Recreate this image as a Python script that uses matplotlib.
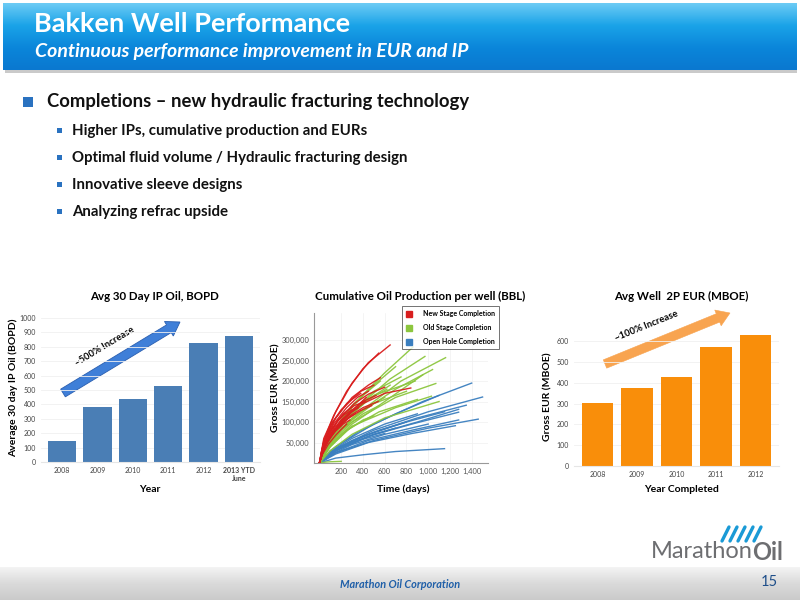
import matplotlib
matplotlib.use('Agg')
import numpy as np
import matplotlib.pyplot as plt
from matplotlib.patches import Rectangle, FancyArrow, Patch
from matplotlib.colors import LinearSegmentedColormap
from matplotlib.ticker import FuncFormatter

plt.rcParams['font.family'] = ['Lato', 'DejaVu Sans']

# ---- data ----
ip_years = ['2008', '2009', '2010', '2011', '2012', '2013 YTD\nJune']
ip_bopd = [146, 382, 437, 530, 828, 875]

eur_years = ['2008', '2009', '2010', '2011', '2012']
eur_mboe = [302, 378, 428, 572, 630]

# cumulative production per well: (days, thousand bbl)
new_stage = [
    [(0, 0), (40, 60), (150, 125), (300, 195), (450, 245), (650, 288)],
    [(0, 0), (40, 55), (130, 115), (250, 175), (400, 230), (545, 268)],
    [(0, 0), (40, 50), (150, 110), (300, 160), (450, 190), (560, 208)],
    [(0, 0), (40, 45), (130, 95), (250, 135), (350, 160), (450, 175)],
    [(0, 0), (50, 45), (170, 105), (320, 145), (450, 168), (600, 185)],
    [(0, 0), (60, 50), (200, 105), (400, 145), (600, 170), (840, 183)],
    [(0, 0), (30, 35), (120, 85), (220, 120), (320, 140), (420, 150)],
    [(0, 0), (40, 35), (120, 75), (220, 105), (300, 125), (360, 135)],
    [(0, 0), (30, 30), (100, 65), (180, 90), (260, 108), (330, 120)],
    [(0, 0), (40, 40), (150, 90), (280, 125), (400, 150), (520, 165)],
    [(0, 0), (25, 25), (80, 55), (150, 78), (220, 95), (280, 105)],
    [(0, 0), (50, 40), (160, 85), (280, 112), (380, 128), (480, 140)],
    [(0, 0), (30, 30), (110, 70), (220, 105), (330, 135), (430, 160)],
    [(0, 0), (25, 20), (80, 45), (150, 68), (200, 82), (250, 95)],
    [(0, 0), (30, 40), (100, 90), (200, 130), (300, 155), (380, 170)],
    [(0, 0), (35, 45), (120, 100), (250, 145), (380, 175), (500, 190)],
    [(0, 0), (20, 30), (80, 70), (160, 100), (230, 118), (300, 130)],
    [(0, 0), (40, 35), (140, 80), (280, 115), (400, 135), (540, 150)],
]
old_stage = [
    [(0, 0), (100, 60), (300, 140), (600, 220), (860, 283)],
    [(0, 0), (100, 55), (300, 125), (650, 205), (970, 260)],
    [(0, 0), (100, 50), (350, 120), (750, 200), (1160, 257)],
    [(0, 0), (100, 50), (300, 110), (700, 180), (1040, 228)],
    [(0, 0), (100, 45), (300, 100), (700, 160), (1070, 194)],
    [(0, 0), (100, 40), (300, 90), (700, 135), (1030, 163)],
    [(0, 0), (80, 55), (250, 125), (500, 190), (700, 235)],
    [(0, 0), (80, 50), (250, 115), (500, 175), (750, 210)],
    [(0, 0), (80, 45), (220, 100), (450, 155), (650, 190)],
    [(0, 0), (80, 40), (250, 95), (500, 145), (800, 175)],
    [(0, 0), (80, 40), (200, 85), (400, 130), (600, 160)],
    [(0, 0), (60, 35), (200, 80), (400, 120), (550, 140)],
    [(0, 0), (80, 35), (250, 80), (550, 125), (900, 155)],
    [(0, 0), (60, 30), (200, 70), (400, 105), (500, 115)],
    [(0, 0), (100, 40), (300, 95), (600, 150), (950, 215)],
    [(0, 0), (100, 30), (300, 70), (600, 110), (1100, 150)],
    [(0, 0), (50, 2), (100, 3), (200, 4)],
    [(0, 0), (80, 45), (250, 110), (500, 165), (880, 200)],
    [(0, 0), (80, 50), (200, 105), (400, 165), (560, 200)],
    [(0, 0), (60, 40), (180, 90), (350, 135), (480, 160)],
    [(0, 0), (70, 45), (220, 105), (420, 150), (620, 180)],
]
open_hole = [
    [(0, 0), (150, 40), (500, 95), (950, 150), (1400, 195)],
    [(0, 0), (150, 35), (500, 80), (1000, 125), (1500, 161)],
    [(0, 0), (150, 35), (500, 75), (900, 110), (1350, 141)],
    [(0, 0), (150, 30), (500, 70), (900, 100), (1280, 131)],
    [(0, 0), (150, 30), (450, 65), (850, 95), (1280, 124)],
    [(0, 0), (150, 25), (500, 55), (1000, 85), (1460, 107)],
    [(0, 0), (150, 25), (450, 55), (850, 80), (1280, 105)],
    [(0, 0), (150, 22), (450, 50), (850, 72), (1250, 91)],
    [(0, 0), (150, 12), (400, 20), (700, 28), (1150, 35)],
    [(0, 0), (100, 30), (350, 75), (700, 120), (1100, 165)],
    [(0, 0), (100, 28), (300, 60), (600, 95), (900, 120)],
    [(0, 0), (100, 25), (300, 55), (550, 80), (800, 100)],
    [(0, 0), (100, 22), (250, 45), (500, 70), (700, 85)],
    [(0, 0), (80, 20), (200, 38), (400, 58), (600, 72)],
    [(0, 0), (120, 28), (400, 65), (800, 100), (1150, 125)],
    [(0, 0), (100, 20), (300, 45), (600, 70), (1000, 95)],
]

bullets = ['Higher IPs, cumulative production and EURs',
           'Optimal fluid volume / Hydraulic fracturing design',
           'Innovative sleeve designs',
           'Analyzing refrac upside']

RED = '#d81e1e'
GREEN = '#8cc63e'
BLUE = '#3b7fbf'
BAR_BLUE = '#4a7eb5'
ORANGE = '#f98e0a'

fig = plt.figure(figsize=(8, 6), dpi=100)

# background axes in pixel units
bg = fig.add_axes([0, 0, 1, 1])
bg.set_xlim(0, 800)
bg.set_ylim(600, 0)
bg.axis('off')

# header band
hdr = LinearSegmentedColormap.from_list('hdr', ['#6ccbf5', '#1aa3e8', '#0b86da', '#0a78d0'])
grad = np.linspace(0, 1, 100).reshape(-1, 1)
bg.imshow(grad, cmap=hdr, extent=(3, 797, 70, 3), aspect='auto', zorder=1)
bg.add_patch(Rectangle((5, 70), 792, 3, color='#8a8a8a', alpha=0.45, lw=0, zorder=1))
bg.text(34, 24, 'Bakken Well Performance', color='white', fontsize=19.5,
        fontweight='bold', va='center', ha='left', zorder=3)
bg.text(35, 52, 'Continuous performance improvement in EUR and IP', color='white',
        fontsize=14, fontweight='bold', style='italic', va='center', ha='left', zorder=3)

# bullets
bg.add_patch(Rectangle((23, 97), 10, 10, color='#2a72c0', lw=0))
bg.text(47, 102, 'Completions \u2013 new hydraulic fracturing technology', fontsize=13.3,
        fontweight='bold', va='center', ha='left', color='#111111')
for i, b in enumerate(bullets):
    y = 131 + 27 * i
    bg.add_patch(Rectangle((57, y - 3), 5, 5, color='#2a72c0', lw=0))
    bg.text(72, y, b, fontsize=10.8, fontweight='bold', va='center', ha='left', color='#111111')

# footer band
ftr = LinearSegmentedColormap.from_list('ftr', ['#f4f4f4', '#dadada', '#cacaca'])
bg.imshow(grad, cmap=ftr, extent=(0, 800, 600, 567), aspect='auto', zorder=1)
bg.text(340, 585, 'Marathon Oil Corporation', fontsize=7.8, style='italic', fontweight='bold',
        color='#1f5fa8', va='center', ha='left', zorder=3)
bg.text(778, 582, '15', fontsize=10.5, color='#1f4f8a', va='center', ha='right', zorder=3)

# logo
bg.text(651, 552, 'Marathon', fontsize=17, color='#6d6e71', va='center', ha='left')
bg.text(752, 552, 'Oil', fontsize=17, color='#6d6e71', fontweight='bold', va='center', ha='left')
for k in range(5):
    xs = np.array([722, 729]) + 8 * k
    bg.plot(xs, [541, 527], color='#1a9ad6', lw=2.4, solid_capstyle='round')

# chart titles and labels
bg.text(155, 296, 'Avg 30 Day IP Oil, BOPD', fontsize=8.3, fontweight='bold', ha='center', va='center')
bg.text(420, 296, 'Cumulative Oil Production per well (BBL)', fontsize=8.3, fontweight='bold',
        ha='center', va='center')
bg.text(681, 296, 'Avg Well  2P EUR (MBOE)', fontsize=8.3, fontweight='bold', ha='center', va='center')
bg.text(150, 490, 'Year', fontsize=7.5, fontweight='bold', ha='center', va='center')
bg.text(403, 489, 'Time (days)', fontsize=7.5, fontweight='bold', ha='center', va='center')
bg.text(682, 489, 'Year Completed', fontsize=7.5, fontweight='bold', ha='center', va='center')
bg.text(13, 388, 'Average 30 day IP Oil (BOPD)', fontsize=7.5, fontweight='bold', rotation=90,
        ha='center', va='center')
bg.text(276, 388, 'Gross EUR (MBOE)', fontsize=7.5, fontweight='bold', rotation=90,
        ha='center', va='center')
bg.text(548, 397, 'Gross EUR (MBOE)', fontsize=7.5, fontweight='bold', rotation=90,
        ha='center', va='center')


def px_axes(left, right, top, bottom):
    return fig.add_axes([left / 800, (600 - bottom) / 600, (right - left) / 800, (bottom - top) / 600])


def bar_style(ax):
    for s in ax.spines.values():
        s.set_visible(False)
    ax.spines['bottom'].set_visible(True)
    ax.spines['bottom'].set_color('#e6e6e6')
    ax.tick_params(length=0, colors='#444444', labelsize=5)
    ax.yaxis.grid(True, color='#f0f0f0', lw=0.6)
    ax.set_axisbelow(True)
    ax.patch.set_alpha(0)


# chart 1: IP bars
ax1 = px_axes(41, 260, 318, 462)
ax1.bar(range(len(ip_years)), ip_bopd, width=0.8, color=BAR_BLUE)
ax1.set_xlim(-0.6, len(ip_years) - 0.4)
ax1.set_ylim(0, 1000)
ax1.set_yticks(range(0, 1001, 100))
ax1.set_xticks(range(len(ip_years)))
ax1.set_xticklabels(ip_years)
bar_style(ax1)
ax1.get_xticklabels()[-1].set_fontweight('bold')

# chart 3: EUR bars
ax3 = px_axes(574, 779, 329, 466)
ax3.bar(range(len(eur_years)), eur_mboe, width=0.8, color=ORANGE)
ax3.set_xlim(-0.6, len(eur_years) - 0.4)
ax3.set_ylim(0, 660)
ax3.set_yticks(range(0, 601, 100))
ax3.set_xticks(range(len(eur_years)))
ax3.set_xticklabels(eur_years)
bar_style(ax3)

# chart 2: cumulative curves
ax2 = px_axes(314, 488, 313, 463)
for group, col in [(open_hole, BLUE), (old_stage, GREEN), (new_stage, RED)]:
    for well in group:
        d = [p[0] for p in well]
        v = [p[1] * 1000 for p in well]
        ax2.plot(d, v, color=col, lw=1.0, alpha=0.95)
ax2.set_xlim(-50, 1550)
ax2.set_ylim(0, 366000)
ax2.set_xticks(range(200, 1401, 200))
ax2.set_yticks(range(50000, 300001, 50000))
ax2.xaxis.set_major_formatter(FuncFormatter(lambda v, p: f'{int(v):,}'))
ax2.yaxis.set_major_formatter(FuncFormatter(lambda v, p: f'{int(v):,}'))
ax2.tick_params(length=0, colors='#555555', labelsize=5.4)
for s in ['top', 'right']:
    ax2.spines[s].set_visible(False)
for s in ['left', 'bottom']:
    ax2.spines[s].set_color('#999999')
    ax2.spines[s].set_linewidth(0.8)
ax2.grid(True, color='#f0f0f0', lw=0.5)
ax2.set_axisbelow(True)
ax2.patch.set_alpha(0)
handles = [Patch(color=RED, label='New Stage Completion'),
           Patch(color=GREEN, label='Old Stage Completion'),
           Patch(color=BLUE, label='Open Hole Completion')]
leg = ax2.legend(handles=handles, loc='upper left', bbox_to_anchor=(0.505, 1.045), fontsize=5.0,
                 frameon=True, fancybox=False, edgecolor='#333333', handlelength=0.9,
                 handleheight=0.9, labelspacing=1.0, borderpad=0.6, handletextpad=1.5,
                 borderaxespad=0)
leg.get_frame().set_linewidth(0.6)
for t in leg.get_texts():
    t.set_fontweight('bold')

# increase arrows
bg.add_patch(FancyArrow(63, 393, 117, -71, width=9, head_width=17, head_length=13,
                        length_includes_head=True, color='#3f7fd8', ec='#2a5fb0', lw=0.6, zorder=5))
bg.text(105, 346, '~500% Increase', fontsize=6.8, fontweight='bold', rotation=31,
        ha='center', va='center', zorder=6)
bg.add_patch(FancyArrow(605, 364, 125, -51, width=9, head_width=17, head_length=13,
                        length_includes_head=True, color='#f8a450', ec='#f8a450', lw=0.4, zorder=5))
bg.text(646, 326, '~100% Increase', fontsize=6.8, fontweight='bold', rotation=22,
        ha='center', va='center', zorder=6)

fig.savefig('out.png', dpi=100)
